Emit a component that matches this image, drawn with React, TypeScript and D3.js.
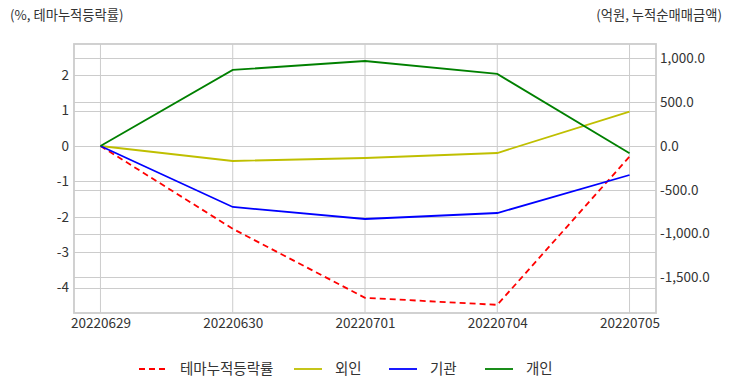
import { useRef, useEffect } from 'react';
import * as d3 from 'd3';

const dates = ['20220629', '20220630', '20220701', '20220704', '20220705'];
const themeReturn = [0, -2.34, -4.29, -4.49, -0.3];
const foreign = [0, -171, -137, -80, 392];
const institution = [0, -696, -833, -765, -331];
const individual = [0, 868, 970, 822, -84];

const leftTicks = [2, 1, 0, -1, -2, -3, -4];
const rightTicks = [1000, 500, 0, -500, -1000, -1500];

const FONT = '"Noto Sans CJK KR", "Noto Sans", sans-serif';

export default function App() {
  const ref = useRef<SVGSVGElement>(null);

  useEffect(() => {
    if (!ref.current) return;
    draw(ref.current);
  }, []);

  return (
    <div style={{ position: 'absolute', left: 0, top: 0 }}>
      <svg ref={ref} width={732} height={392} />
    </div>
  );
}

function draw(el: SVGSVGElement) {
  const svg = d3.select(el);
  svg.selectAll('*').remove();

  const left = 74, right = 656, top = 44, bottom = 313;

  const x = d3.scalePoint<string>().domain(dates).range([left, right]).padding(0.2);
  const yL = d3.scaleLinear().domain([-4.72, 2.88]).range([bottom, top]);
  const yR = d3.scaleLinear().domain([-1906, 1164]).range([bottom, top]);

  const hyphen = (f: (n: number) => string) => (n: d3.NumberValue) => f(+n).replace('−', '-');

  const grid = svg.append('g').attr('stroke', '#cccccc').attr('stroke-width', 1);
  dates.forEach((d) => {
    grid.append('line')
      .attr('x1', x(d)!).attr('x2', x(d)!)
      .attr('y1', top).attr('y2', bottom);
  });
  leftTicks.forEach((t) => {
    grid.append('line')
      .attr('x1', left).attr('x2', right)
      .attr('y1', Math.round(yL(t)) + 0.5).attr('y2', Math.round(yL(t)) + 0.5);
  });
  rightTicks.forEach((t) => {
    grid.append('line')
      .attr('x1', left).attr('x2', right)
      .attr('y1', Math.round(yR(t)) + 0.5).attr('y2', Math.round(yR(t)) + 0.5);
  });

  svg.append('rect')
    .attr('x', left).attr('y', top)
    .attr('width', right - left).attr('height', bottom - top)
    .attr('fill', 'none').attr('stroke', '#cccccc').attr('stroke-width', 1.8);

  // left axis
  svg.append('g')
    .attr('transform', `translate(${left},0)`)
    .call(d3.axisLeft(yL).tickValues(leftTicks).tickSize(0).tickPadding(5).tickFormat(hyphen(d3.format('d'))))
    .call((g) => g.select('.domain').remove())
    .selectAll('text')
    .style('font-family', FONT).style('font-size', '13.5px').attr('fill', '#333');

  // right axis
  svg.append('g')
    .attr('transform', `translate(${right},0)`)
    .call(d3.axisRight(yR).tickValues(rightTicks).tickSize(0).tickPadding(4).tickFormat(hyphen(d3.format(',.1f'))))
    .call((g) => g.select('.domain').remove())
    .selectAll('text')
    .style('font-family', FONT).style('font-size', '13.5px').attr('fill', '#333');

  // x axis
  svg.append('g')
    .attr('transform', `translate(0,${bottom})`)
    .call(d3.axisBottom(x).tickSize(0).tickPadding(5))
    .call((g) => g.select('.domain').remove())
    .selectAll('text')
    .style('font-family', FONT).style('font-size', '13.5px').attr('fill', '#333');

  svg.append('text')
    .attr('x', 10).attr('y', 20)
    .style('font-family', FONT).style('font-size', '13.3px').attr('fill', '#333')
    .text('(%, 테마누적등락률)');
  svg.append('text')
    .attr('x', 722).attr('y', 20).attr('text-anchor', 'end')
    .style('font-family', FONT).style('font-size', '13.3px').attr('fill', '#333')
    .text('(억원, 누적순매매금액)');

  const series = [
    { name: '테마누적등락률', values: themeReturn, y: yL, color: '#ff0000', dash: '6,4' },
    { name: '외인', values: foreign, y: yR, color: '#bfbf00', dash: null },
    { name: '기관', values: institution, y: yR, color: '#0000ff', dash: null },
    { name: '개인', values: individual, y: yR, color: '#008000', dash: null },
  ];

  series.forEach((s) => {
    const line = d3.line<number>()
      .x((_, i) => x(dates[i])!)
      .y((v) => s.y(v));
    svg.append('path')
      .datum(s.values)
      .attr('d', line)
      .attr('fill', 'none')
      .attr('stroke', s.color)
      .attr('stroke-width', 1.8)
      .attr('stroke-dasharray', s.dash);
  });

  // legend
  const legendX = [139, 294, 389, 485];
  const ly = 369;
  series.forEach((s, i) => {
    const g = svg.append('g').attr('transform', `translate(${legendX[i]},${ly})`);
    g.append('line')
      .attr('x1', 0).attr('x2', 28).attr('y1', 0).attr('y2', 0)
      .attr('stroke', s.color).attr('stroke-width', 1.8)
      .attr('stroke-dasharray', s.dash);
    g.append('text')
      .attr('x', 41).attr('y', 5)
      .style('font-family', FONT).style('font-size', '14.5px').attr('fill', '#333')
      .text(s.name);
  });
}
